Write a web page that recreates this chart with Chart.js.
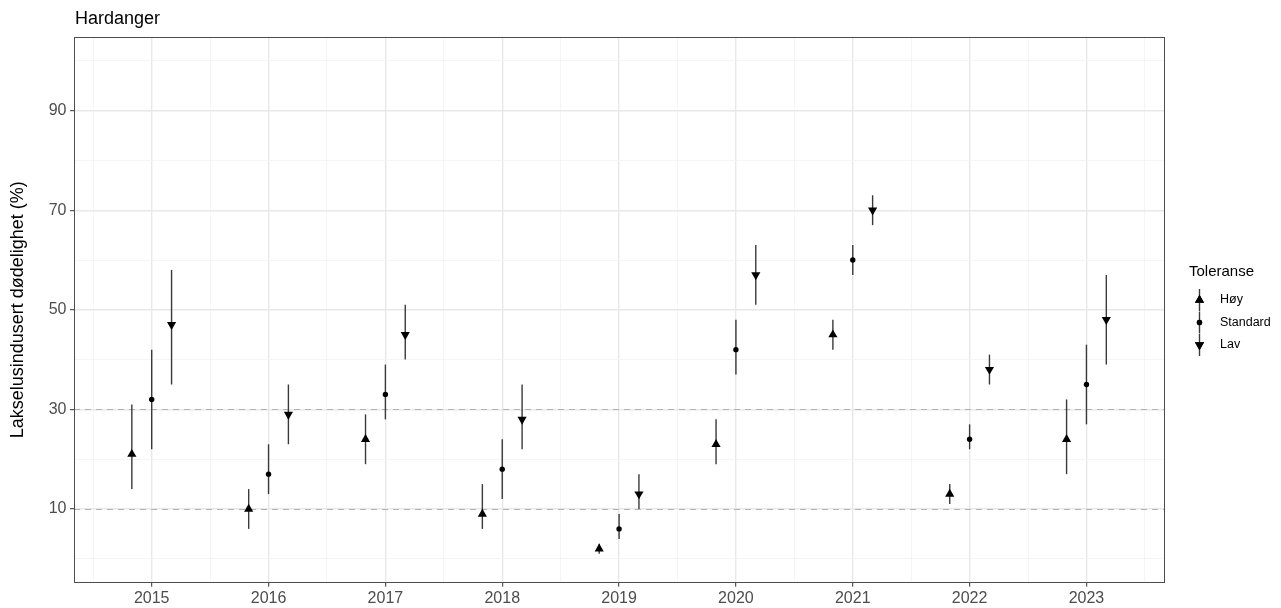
<!DOCTYPE html>
<html>
<head>
<meta charset="utf-8">
<script src="https://cdn.jsdelivr.net/npm/chart.js@4"></script>
<style>
  body { margin: 0; background: #fff; }
  #wrap { width: 1281px; height: 608px; position: relative; }
</style>
</head>
<body>
<div id="wrap"><canvas id="myChart"></canvas></div>
<script>
// data
const years = [2015, 2016, 2017, 2018, 2019, 2020, 2021, 2022, 2023];
const hoy    = [21, 10, 24, 9, 2, 23, 45, 13, 24];
const hoyLo  = [14, 6, 19, 6, 1, 19, 42, 11, 17];
const hoyHi  = [31, 14, 29, 15, 3, 28, 48, 15, 32];
const std    = [32, 17, 33, 18, 6, 42, 60, 24, 35];
const stdLo  = [22, 13, 28, 12, 4, 37, 57, 22, 27];
const stdHi  = [42, 23, 39, 24, 9, 48, 63, 27, 43];
const lav    = [47, 29, 45, 28, 13, 57, 70, 38, 48];
const lavLo  = [35, 23, 40, 22, 10, 51, 67, 35, 39];
const lavHi  = [58, 35, 51, 35, 17, 63, 73, 41, 57];
const yTickLabels = [10, 30, 50, 70, 90];
const refLines = [10, 30];

const dodge = 0.17;
const font = "'Liberation Sans', Arial, sans-serif";

function pts(vals, lo, hi, off) {
    return years.map((yr, i) => ({ x: yr + off, y: vals[i], lo: lo[i], hi: hi[i] }));
}

const errorBars = {
    id: 'errorBars',
    beforeDatasetsDraw(chart) {
        const ctx = chart.ctx;
        const xs = chart.scales.x, ys = chart.scales.y;
        const a = chart.chartArea;
        ctx.save();
        // grey dashed reference lines
        ctx.strokeStyle = '#b3b3b3';
        ctx.lineWidth = 1;
        ctx.setLineDash([6, 5]);
        refLines.forEach(v => {
            const py = Math.round(ys.getPixelForValue(v)) + 0.5;
            ctx.beginPath();
            ctx.moveTo(a.left, py);
            ctx.lineTo(a.right, py);
            ctx.stroke();
        });
        ctx.setLineDash([]);
        ctx.strokeStyle = '#3a3a3a';
        ctx.lineWidth = 1.4;
        chart.data.datasets.forEach(ds => {
            ds.data.forEach(p => {
                const px = xs.getPixelForValue(p.x);
                ctx.beginPath();
                ctx.moveTo(px, ys.getPixelForValue(p.lo));
                ctx.lineTo(px, ys.getPixelForValue(p.hi));
                ctx.stroke();
            });
        });
        ctx.restore();
    },
    afterDraw(chart) {
        const ctx = chart.ctx;
        const a = chart.chartArea;
        ctx.save();
        // panel border
        ctx.strokeStyle = '#4d4d4d';
        ctx.lineWidth = 1;
        ctx.strokeRect(Math.round(a.left) + 0.5, Math.round(a.top) + 0.5,
            Math.round(a.right - a.left) - 1, Math.round(a.bottom - a.top) - 1);
        // plot title
        ctx.fillStyle = '#000';
        ctx.font = '18px ' + font;
        ctx.textBaseline = 'middle';
        ctx.textAlign = 'left';
        ctx.fillText('Hardanger', a.left + 1, 19);
        // legend
        ctx.font = '15px ' + font;
        ctx.fillText('Toleranse', 1189, 272);
        ctx.font = '12.5px ' + font;
        const rowY = [300, 322.5, 345];
        chart.data.datasets.forEach((ds, i) => {
            const ky = rowY[i];
            const kx = 1199.5;
            ctx.strokeStyle = '#3a3a3a';
            ctx.lineWidth = 1.4;
            ctx.beginPath();
            ctx.moveTo(kx, ky - 11);
            ctx.lineTo(kx, ky + 11);
            ctx.stroke();
            Chart.helpers.drawPoint(ctx, {
                pointStyle: ds.pointStyle, rotation: ds.pointRotation || 0,
                radius: ds.pointRadius, borderWidth: 0
            }, kx, ky);
            ctx.fillStyle = '#000';
            ctx.fill();
            ctx.fillText(ds.label, 1220, ky);
        });
        ctx.restore();
    }
};

const isMajorX = v => Math.abs(v - Math.round(v)) < 1e-6;
const isMajorY = v => Math.abs(((v % 20) + 20) % 20 - 10) < 1e-6;

new Chart(document.getElementById('myChart'), {
    type: 'scatter',
    data: {
        datasets: [
            { label: 'Høy', data: pts(hoy, hoyLo, hoyHi, -dodge), pointStyle: 'triangle', pointRadius: 5.3,
              backgroundColor: '#000', borderColor: '#000', borderWidth: 0 },
            { label: 'Standard', data: pts(std, stdLo, stdHi, 0), pointStyle: 'circle', pointRadius: 2.7,
              backgroundColor: '#000', borderColor: '#000', borderWidth: 0 },
            { label: 'Lav', data: pts(lav, lavLo, lavHi, dodge), pointStyle: 'triangle', pointRotation: 180, pointRadius: 5.3,
              backgroundColor: '#000', borderColor: '#000', borderWidth: 0 }
        ]
    },
    options: {
        responsive: true,
        maintainAspectRatio: false,
        animation: false,
        layout: { padding: { top: 36.7, right: 116.5, left: 0, bottom: 0 } },
        plugins: {
            legend: { display: false },
            tooltip: { enabled: false }
        },
        scales: {
            x: {
                type: 'linear',
                min: 2014.335,
                max: 2023.668,
                afterFit: s => { s.height = 25.3; },
                border: { display: false },
                grid: {
                    color: c => isMajorX(c.tick.value) ? '#e8e8e8' : '#f2f2f2',
                    lineWidth: c => isMajorX(c.tick.value) ? 1.4 : 0.8,
                    tickColor: c => isMajorX(c.tick.value) ? '#333' : 'rgba(0,0,0,0)',
                    tickLength: 4,
                    tickWidth: 1
                },
                ticks: {
                    stepSize: 0.5,
                    includeBounds: false,
                    autoSkip: false,
                    maxRotation: 0,
                    padding: 2,
                    color: '#4d4d4d',
                    font: { family: font, size: 16 },
                    callback: v => isMajorX(v) ? String(Math.round(v)) : ''
                }
            },
            y: {
                min: -4.8,
                max: 104.84,
                afterFit: s => { s.width = 74; },
                border: { display: false },
                grid: {
                    color: c => isMajorY(c.tick.value) ? '#e8e8e8' : '#f2f2f2',
                    lineWidth: c => isMajorY(c.tick.value) ? 1.4 : 0.8,
                    tickColor: c => isMajorY(c.tick.value) ? '#333' : 'rgba(0,0,0,0)',
                    tickLength: 4,
                    tickWidth: 1
                },
                ticks: {
                    stepSize: 10,
                    includeBounds: false,
                    padding: 3.5,
                    color: '#4d4d4d',
                    font: { family: font, size: 16 },
                    callback: v => yTickLabels.includes(Math.round(v)) && isMajorY(v) ? String(Math.round(v)) : ''
                },
                title: {
                    display: true,
                    text: 'Lakselusindusert dødelighet (%)',
                    color: '#000',
                    font: { family: font, size: 18 },
                    padding: { top: 7, bottom: 0 }
                }
            }
        }
    },
    plugins: [errorBars]
});
</script>
</body>
</html>
